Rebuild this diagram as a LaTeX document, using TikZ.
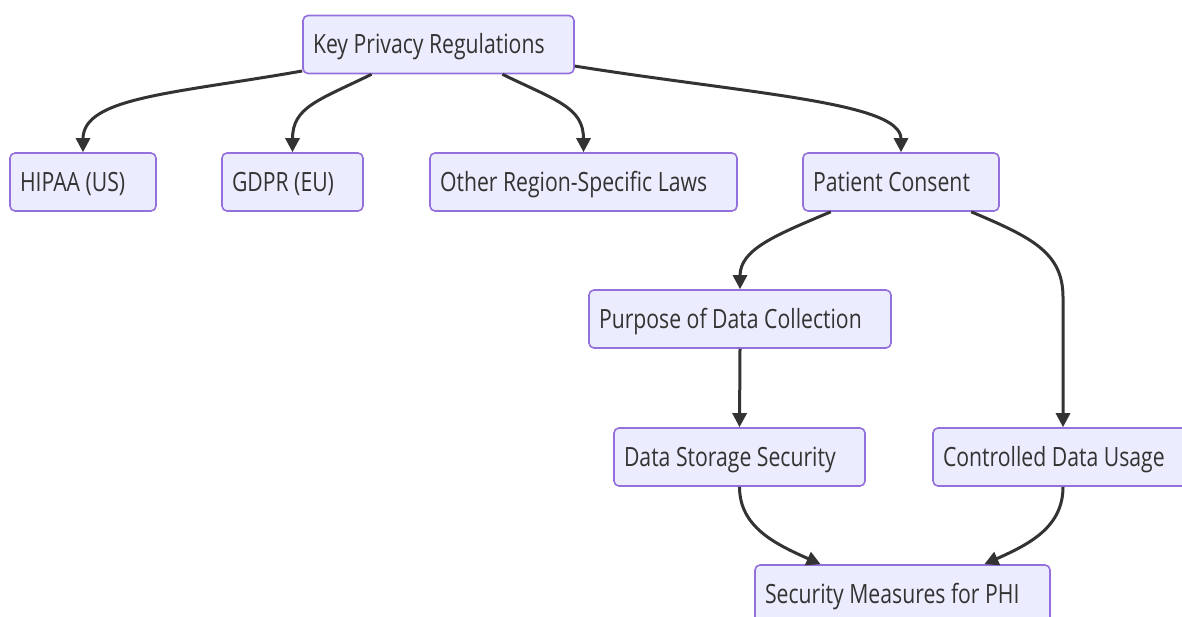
\documentclass[tikz,border=0pt]{standalone}
\usepackage{fontspec}
\setmainfont{Open Sans}[FakeStretch=0.8]
\usetikzlibrary{arrows.meta}
\definecolor{boxfill}{HTML}{ECECFF}
\definecolor{boxline}{HTML}{9370DB}
\definecolor{ink}{HTML}{333333}
\begin{document}
\begin{tikzpicture}[
        x=1pt, y=1pt,
        box/.style={draw=boxline, fill=boxfill, line width=1.6pt, rounded corners=5pt,
                    minimum height=58pt, inner xsep=10pt, inner ysep=0pt,
                    text height=19pt, text depth=0pt, align=left, text=ink,
                    font=\fontsize{26.5}{30}\selectfont,
                    execute at begin node={\spaceskip=5.5pt plus 1pt\relax}},
        edge/.style={draw=ink, line width=3pt, -{Triangle[length=14pt,width=14pt]}}
    ]
    \clip (0,0) rectangle (1182,-617);

    % Top level
    \node[box, text width=251pt] (key) at (438.5,-44.5) {Key Privacy Regulations};

    % Regulations row
    \node[box, text width=126pt] (hipaa) at (83,-182) {HIPAA (US)};
    \node[box, text width=121pt] (gdpr) at (292.5,-182) {GDPR (EU)};
    \node[box, text width=287pt] (other) at (583.5,-182) {Other Region-Specific Laws};
    \node[box, text width=176pt] (consent) at (901,-182) {Patient Consent};

    % Consent branch
    \node[box, text width=282pt] (purpose) at (740,-319) {Purpose of Data Collection};
    \node[box, text width=231pt] (storage) at (739.5,-457) {Data Storage Security};
    \node[box, text width=240pt] (usage) at (1063,-457) {Controlled Data Usage};
    \node[box, text width=275pt] (phi) at (902.5,-594) {Security Measures for PHI};

    % Edges from the top
    \draw[edge] (key.191) .. controls +(190:130pt) and +(90:55pt) .. (hipaa.north);
    \draw[edge] (key.204) .. controls +(206:60pt) and +(90:45pt) .. (gdpr.north);
    \draw[edge] (key.335) .. controls +(334:60pt) and +(90:45pt) .. (other.north);
    \draw[edge] (key.351) .. controls +(351:180pt) and +(90:50pt) .. (consent.north);

    % Edges below consent
    \draw[edge] (consent.203) .. controls +(203:60pt) and +(90:40pt) .. (purpose.north);
    \draw[edge] (consent.337) .. controls +(337:65pt) and +(90:45pt)
        .. ([yshift=130pt]usage.north) -- (usage.north);
    \draw[edge] (purpose.south) -- (storage.north);
    \draw[edge] (storage.south) .. controls +(270:40pt) and +(156:50pt) .. (phi.160);
    \draw[edge] (usage.south) .. controls +(270:40pt) and +(24:50pt) .. (phi.20);
\end{tikzpicture}
\end{document}
